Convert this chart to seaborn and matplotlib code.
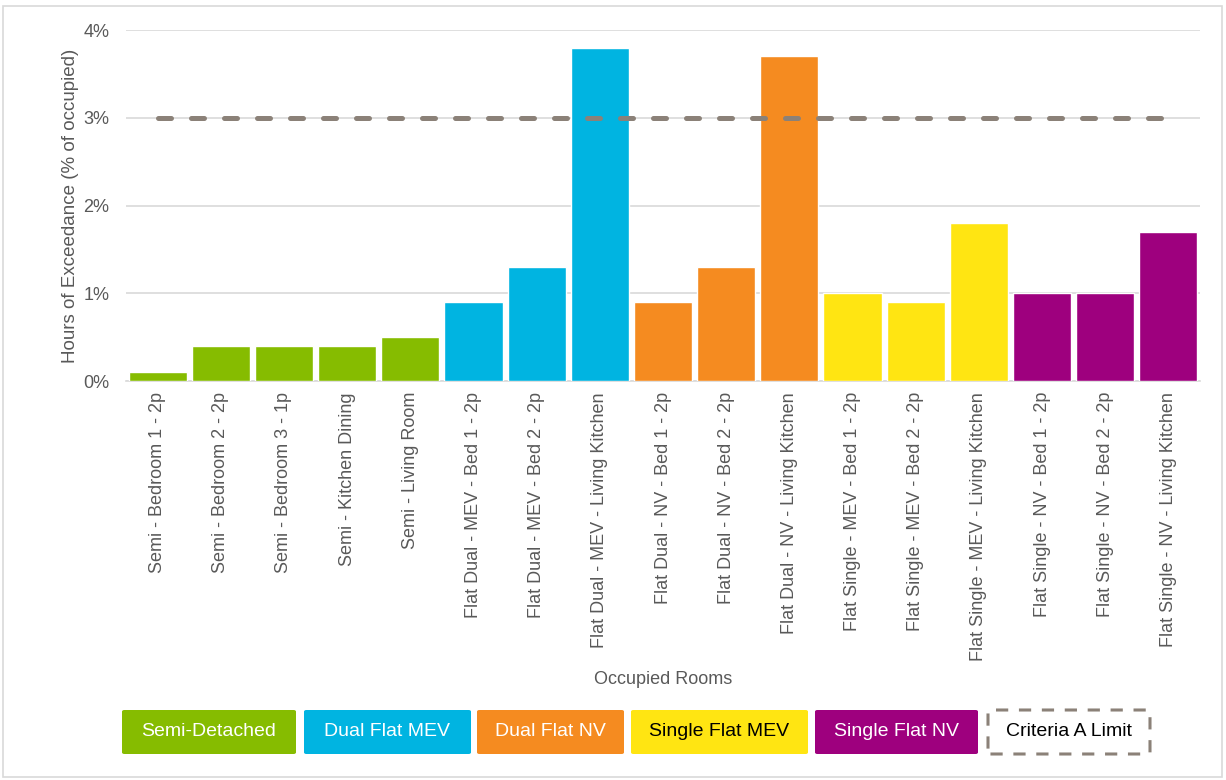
import matplotlib
matplotlib.use("Agg")
import matplotlib.pyplot as plt
import seaborn as sns
import pandas as pd
from matplotlib.patches import FancyBboxPatch, Rectangle

# ---- data ----
rooms = [
    "Semi - Bedroom 1 - 2p", "Semi - Bedroom 2 - 2p", "Semi - Bedroom 3 - 1p",
    "Semi - Kitchen Dining", "Semi - Living Room",
    "Flat Dual - MEV - Bed 1 - 2p", "Flat Dual - MEV - Bed 2 - 2p", "Flat Dual - MEV - Living Kitchen",
    "Flat Dual - NV - Bed 1 - 2p", "Flat Dual - NV - Bed 2 - 2p", "Flat Dual - NV - Living Kitchen",
    "Flat Single - MEV - Bed 1 - 2p", "Flat Single - MEV - Bed 2 - 2p", "Flat Single - MEV - Living Kitchen",
    "Flat Single - NV - Bed 1 - 2p", "Flat Single - NV - Bed 2 - 2p", "Flat Single - NV - Living Kitchen",
]
groups = (["Semi-Detached"] * 5 + ["Dual Flat MEV"] * 3 + ["Dual Flat NV"] * 3
          + ["Single Flat MEV"] * 3 + ["Single Flat NV"] * 3)
exceedance = [0.1, 0.4, 0.4, 0.4, 0.5,
              0.9, 1.3, 3.8,
              0.9, 1.3, 3.7,
              1.0, 0.9, 1.8,
              1.0, 1.0, 1.7]
criteria_limit = 3.0
group_names = ["Semi-Detached", "Dual Flat MEV", "Dual Flat NV", "Single Flat MEV", "Single Flat NV"]
group_colors = ["#86bc00", "#00b4e1", "#f58b20", "#ffe512", "#9e007e"]
legend_text_colors = ["white", "white", "white", "black", "white"]
limit_label = "Criteria A Limit"
yticks = [0, 1, 2, 3, 4]
ytick_labels = ["0%", "1%", "2%", "3%", "4%"]
x_label = "Occupied Rooms"
y_label = "Hours of Exceedance (% of occupied)"

df = pd.DataFrame({"room": rooms, "group": groups, "value": exceedance})

# ---- style ----
sns.set_theme(style="white")
plt.rcParams["font.family"] = ["Liberation Sans", "DejaVu Sans"]
TXT = "#595959"
GRID = "#d9d9d9"
LIMIT = "#8b8178"

W, H = 1226, 780
fig = plt.figure(figsize=(W / 100, H / 100), dpi=100)
ax = fig.add_axes([126 / W, 1 - 381 / H, (1200 - 126) / W, (381 - 30) / H])

sns.barplot(data=df, x="room", y="value", hue="group", hue_order=group_names,
            palette=dict(zip(group_names, group_colors)), dodge=False,
            width=0.92, saturation=1, legend=False, ax=ax, zorder=3)

ax.plot(range(len(rooms)), [criteria_limit] * len(rooms), color=LIMIT, lw=3.6,
        ls=(0, (2.6, 4.0)), dash_capstyle="round", zorder=4)

ax.set_xlim(-0.5, len(rooms) - 0.5)
ax.set_ylim(0, 4)
ax.set_yticks(yticks)
ax.set_yticklabels(ytick_labels)
ax.yaxis.grid(True, color=GRID, lw=1.2, zorder=0)
ax.set_axisbelow(True)
for s in ["top", "right", "left"]:
    ax.spines[s].set_visible(False)
ax.spines["bottom"].set_color(GRID)
ax.spines["bottom"].set_linewidth(1.2)
ax.tick_params(axis="x", length=0, pad=8, labelsize=13, labelcolor=TXT, rotation=90)
ax.tick_params(axis="y", length=0, pad=12, labelsize=13, labelcolor=TXT)
ax.set_xlabel(x_label, fontsize=13, color=TXT)
ax.set_ylabel(y_label, fontsize=13.5, color=TXT, labelpad=3)
ax.xaxis.set_label_coords(0.5, -(671 - 381) / (381 - 30))

# ---- custom legend boxes ----
box_x = [(122, 296), (304, 471), (477, 624), (631, 808), (815, 978)]
y0, y1 = 710, 754
for (xa, xb), name, col, tc in zip(box_x, group_names, group_colors, legend_text_colors):
    p = FancyBboxPatch((xa / W, 1 - y1 / H), (xb - xa) / W, (y1 - y0) / H,
                       boxstyle="round,pad=0,rounding_size=0.002",
                       transform=fig.transFigure, fc=col, ec="none")
    fig.patches.append(p)
    fig.text((xa + xb) / 2 / W, 1 - (y0 + y1) / 2 / H, name, color=tc,
             fontsize=14, ha="center", va="center")
xa, xb = 988, 1150
p = FancyBboxPatch((xa / W, 1 - y1 / H), (xb - xa) / W, (y1 - y0) / H,
                   boxstyle="round,pad=0,rounding_size=0.002",
                   transform=fig.transFigure, fc="white", ec=LIMIT, lw=2.2,
                   ls=(0, (4, 3.5)))
fig.patches.append(p)
fig.text((xa + xb) / 2 / W, 1 - (y0 + y1) / 2 / H, limit_label, color="black",
         fontsize=14, ha="center", va="center")

# figure border
fig.patches.append(Rectangle((3 / W, 3 / H), (W - 7) / W, (H - 9) / H,
                             transform=fig.transFigure, fill=False, ec=GRID, lw=1.2))

fig.savefig("out.png", dpi=100)
